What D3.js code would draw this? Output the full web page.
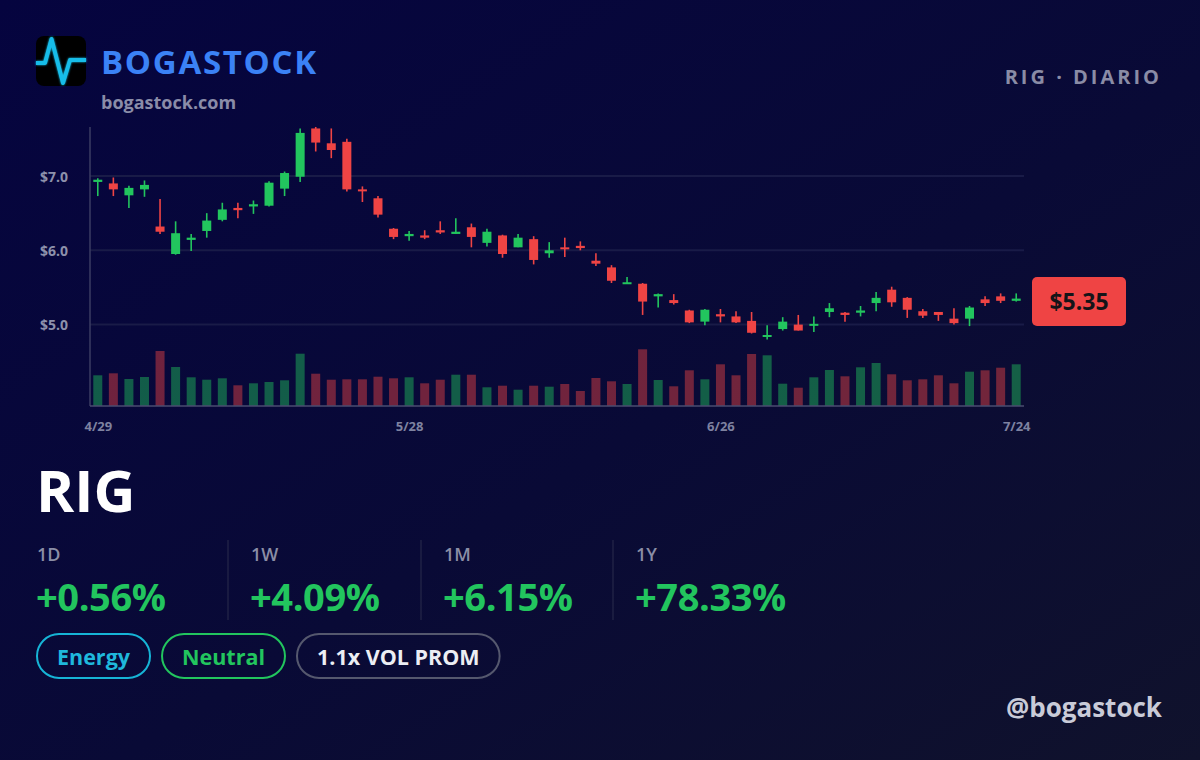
<!DOCTYPE html>
<html>
<head>
<meta charset="utf-8">
<script src="https://cdn.jsdelivr.net/npm/d3@7"></script>
<style>
  html, body { margin: 0; padding: 0; background: #07073a; }
  svg { display: block; font-family: "Open Sans", "DejaVu Sans", sans-serif; }
</style>
</head>
<body>
<svg id="card" width="1200" height="760"></svg>
<script>
// trading days shown on the chart
const dates = [
  "4/29", "4/30",
  "5/1", "5/2", "5/5", "5/6", "5/7", "5/8", "5/9", "5/12", "5/13", "5/14", "5/15", "5/16",
  "5/19", "5/20", "5/21", "5/22", "5/23", "5/27", "5/28", "5/29", "5/30",
  "6/2", "6/3", "6/4", "6/5", "6/6", "6/9", "6/10", "6/11", "6/12", "6/13",
  "6/16", "6/17", "6/18", "6/20", "6/23", "6/24", "6/25", "6/26", "6/27", "6/30",
  "7/1", "7/2", "7/3", "7/7", "7/8", "7/9", "7/10", "7/11", "7/14", "7/15", "7/16", "7/17", "7/18",
  "7/21", "7/22", "7/23", "7/24"
];

const opens = [
  6.92, 6.90, 6.74, 6.82, 6.32, 5.95, 6.14, 6.26, 6.41, 6.57,
  6.59, 6.60, 6.83, 6.99, 7.64, 7.44, 7.46, 6.82, 6.70, 6.29,
  6.19, 6.20, 6.27, 6.22, 6.31, 6.10, 6.20, 6.04, 6.15, 5.96,
  6.04, 6.06, 5.86, 5.77, 5.55, 5.55, 5.38, 5.33, 5.19, 5.04,
  5.14, 5.11, 5.05, 4.84, 4.94, 5.00, 4.99, 5.17, 5.16, 5.16,
  5.29, 5.47, 5.36, 5.18, 5.17, 5.08, 5.08, 5.34, 5.38, 5.32
];
const highs = [
  6.97, 6.98, 6.87, 6.94, 6.69, 6.39, 6.22, 6.50, 6.64, 6.64,
  6.67, 6.93, 7.06, 7.64, 7.66, 7.64, 7.50, 6.86, 6.73, 6.30,
  6.26, 6.27, 6.39, 6.43, 6.36, 6.29, 6.21, 6.22, 6.19, 6.11,
  6.17, 6.12, 5.96, 5.80, 5.64, 5.56, 5.42, 5.41, 5.20, 5.21,
  5.21, 5.18, 5.17, 4.99, 5.10, 5.13, 5.11, 5.29, 5.17, 5.25,
  5.44, 5.51, 5.37, 5.21, 5.17, 5.22, 5.25, 5.38, 5.42, 5.42
];
const lows = [
  6.73, 6.73, 6.57, 6.72, 6.22, 5.94, 5.99, 6.17, 6.39, 6.43,
  6.49, 6.59, 6.73, 6.92, 7.33, 7.24, 6.79, 6.65, 6.44, 6.15,
  6.13, 6.15, 6.22, 6.22, 6.04, 6.05, 5.90, 6.04, 5.81, 5.90,
  5.91, 6.00, 5.79, 5.56, 5.55, 5.13, 5.23, 5.27, 5.02, 4.99,
  5.03, 5.02, 4.88, 4.80, 4.92, 4.92, 4.90, 5.10, 5.04, 5.11,
  5.18, 5.24, 5.09, 5.09, 5.05, 5.00, 4.98, 5.25, 5.29, 5.31
];
const closes = [
  6.95, 6.82, 6.84, 6.88, 6.25, 6.23, 6.17, 6.40, 6.55, 6.54,
  6.62, 6.91, 7.04, 7.58, 7.45, 7.35, 6.82, 6.80, 6.48, 6.18,
  6.22, 6.17, 6.24, 6.25, 6.18, 6.25, 5.95, 6.17, 5.87, 6.00,
  6.02, 6.03, 5.82, 5.59, 5.57, 5.31, 5.41, 5.29, 5.03, 5.20,
  5.11, 5.03, 4.89, 4.86, 5.04, 4.92, 5.01, 5.22, 5.13, 5.19,
  5.36, 5.30, 5.20, 5.12, 5.13, 5.02, 5.23, 5.29, 5.32, 5.35
];
// volume in millions of shares
const volumes = [
  30.7, 32.7, 27.0, 29.0, 55.0, 39.0, 28.7, 26.3, 27.7, 20.7,
  22.7, 24.0, 25.7, 52.3, 32.3, 26.3, 26.7, 26.7, 29.3, 27.7,
  28.7, 22.7, 26.3, 31.3, 31.3, 18.7, 20.3, 16.3, 20.3, 19.3,
  22.0, 15.0, 28.0, 24.7, 22.0, 56.7, 26.0, 19.7, 35.7, 26.7,
  41.7, 30.7, 52.0, 50.7, 22.3, 18.3, 28.7, 36.0, 29.7, 38.7,
  43.0, 31.7, 25.7, 26.7, 30.7, 22.7, 34.3, 35.7, 38.3, 41.7
];

const priceTicks = [5, 6, 7];
const dateTicks = ["4/29", "5/28", "6/26", "7/24"];
const lastPrice = "$5.35";

const stats = [
  { label: "1D", value: "+0.56%" },
  { label: "1W", value: "+4.09%" },
  { label: "1M", value: "+6.15%" },
  { label: "1Y", value: "+78.33%" }
];
const pills = [
  { text: "Energy", color: "#16b4d6", textColor: "#1fb8dc" },
  { text: "Neutral", color: "#22c55e", textColor: "#22c55e" },
  { text: "1.1x VOL PROM", color: "#55586e", textColor: "#eceef4" }
];

const UP = "#22c55e";
const DOWN = "#ef4444";

var svg = d3.select("#card");

/**
 * Background gradient and header.
 */
function drawBackground() {
  var defs = svg.append("defs");
  var grad = defs.append("linearGradient")
    .attr("id", "bg")
    .attr("x1", "0").attr("y1", "0")
    .attr("x2", "1").attr("y2", "1");
  grad.append("stop").attr("offset", "0%").attr("stop-color", "#05043f");
  grad.append("stop").attr("offset", "55%").attr("stop-color", "#090a36");
  grad.append("stop").attr("offset", "100%").attr("stop-color", "#10122c");

  var glow = defs.append("filter").attr("id", "glow")
    .attr("x", "-20%").attr("y", "-20%").attr("width", "140%").attr("height", "140%");
  glow.append("feGaussianBlur").attr("stdDeviation", 1.2).attr("result", "b");
  var merge = glow.append("feMerge");
  merge.append("feMergeNode").attr("in", "b");
  merge.append("feMergeNode").attr("in", "SourceGraphic");

  svg.append("rect")
    .attr("width", 1200).attr("height", 760)
    .attr("fill", "url(#bg)");
}

function drawHeader() {
  // logo
  svg.append("rect")
    .attr("x", 36).attr("y", 36)
    .attr("width", 50).attr("height", 50)
    .attr("rx", 8)
    .attr("fill", "#000");
  var pts = [[36, 63], [45, 63], [51.5, 39], [63, 83], [70, 60], [86, 60]];
  svg.append("path")
    .attr("d", d3.line()(pts))
    .attr("fill", "none")
    .attr("stroke", "#19bde9")
    .attr("stroke-width", 4)
    .attr("stroke-linejoin", "round")
    .attr("filter", "url(#glow)");

  svg.append("text")
    .attr("x", 101).attr("y", 74)
    .style("font-size", "33px")
    .style("font-weight", 700)
    .style("letter-spacing", "1.7px")
    .attr("fill", "#3b82f6")
    .text("BOGASTOCK");

  svg.append("text")
    .attr("x", 101).attr("y", 109)
    .style("font-size", "18px")
    .style("font-weight", 700)
    .attr("fill", "#8a8ca8")
    .text("bogastock.com");

  svg.append("text")
    .attr("x", 1162).attr("y", 84)
    .style("text-anchor", "end")
    .style("font-size", "20px")
    .style("font-weight", 700)
    .style("letter-spacing", "3px")
    .attr("fill", "#8a8ca6")
    .text("RIG · DIARIO");
}

/**
 * Candlesticks with volume underneath.
 */
function drawChart() {
  var left = 90, right = 1024, top = 127, bottom = 406;

  var x = d3.scalePoint()
    .domain(dates)
    .range([left, right])
    .padding(0.5);
  var bodyW = 9;

  var y = d3.scaleLinear()
    .domain([5, 7])
    .range([324.6, 176]);

  var yVol = d3.scaleLinear()
    .domain([0, 60])
    .range([bottom, bottom - 60]);

  // grid lines
  svg.append("g")
    .selectAll("line")
    .data(priceTicks)
    .enter().append("line")
    .attr("x1", left).attr("x2", right)
    .attr("y1", d => y(d)).attr("y2", d => y(d))
    .attr("stroke", "#191b47")
    .attr("stroke-width", 2);

  // y axis labels
  var yAxis = svg.append("g")
    .attr("transform", "translate(" + (left - 22) + ",0)")
    .call(d3.axisLeft(y).tickValues(priceTicks).tickSize(0).tickFormat(d => "$" + d.toFixed(1)));
  yAxis.select(".domain").remove();
  yAxis.selectAll("text")
    .attr("x", 0)
    .attr("dy", "0.38em")
    .style("font-family", "'Open Sans', sans-serif")
    .style("font-size", "14px")
    .style("font-weight", 700)
    .attr("fill", "#8d91ab");

  var rows = dates.map((d, i) => ({
    date: d, open: opens[i], high: highs[i], low: lows[i], close: closes[i], vol: volumes[i]
  }));

  // volume bars
  svg.append("g")
    .selectAll("rect")
    .data(rows)
    .enter().append("rect")
    .attr("x", d => x(d.date) - bodyW / 2)
    .attr("y", d => yVol(d.vol))
    .attr("width", bodyW)
    .attr("height", d => bottom - yVol(d.vol))
    .attr("fill", d => d.close >= d.open ? UP : DOWN)
    .attr("fill-opacity", 0.45);

  // axis lines
  svg.append("line")
    .attr("x1", left).attr("x2", left)
    .attr("y1", top).attr("y2", bottom)
    .attr("stroke", "#3b3d63").attr("stroke-width", 1.5);
  svg.append("line")
    .attr("x1", left).attr("x2", right)
    .attr("y1", bottom).attr("y2", bottom)
    .attr("stroke", "#4a4c70").attr("stroke-width", 1.5);

  var candles = svg.append("g")
    .selectAll("g")
    .data(rows)
    .enter().append("g")
    .attr("fill", d => d.close >= d.open ? UP : DOWN)
    .attr("stroke", d => d.close >= d.open ? UP : DOWN);

  candles.append("line")
    .attr("x1", d => x(d.date)).attr("x2", d => x(d.date))
    .attr("y1", d => y(d.high)).attr("y2", d => y(d.low))
    .attr("stroke-width", 1.6);

  candles.append("rect")
    .attr("x", d => x(d.date) - bodyW / 2)
    .attr("y", d => y(Math.max(d.open, d.close)))
    .attr("width", bodyW)
    .attr("height", d => Math.max(2, Math.abs(y(d.open) - y(d.close))))
    .attr("stroke", "none");

  // x labels
  var xAxis = svg.append("g")
    .attr("transform", "translate(0," + (bottom + 13) + ")")
    .call(d3.axisBottom(x).tickValues(dateTicks).tickSize(0));
  xAxis.select(".domain").remove();
  xAxis.selectAll("text")
    .style("font-family", "'Open Sans', sans-serif")
    .style("font-size", "13px")
    .style("font-weight", 700)
    .attr("fill", "#7e82a0");

  // last price badge
  var badge = svg.append("g").attr("transform", "translate(1032,277)");
  badge.append("rect")
    .attr("width", 94).attr("height", 49)
    .attr("rx", 5)
    .attr("fill", DOWN);
  badge.append("text")
    .attr("x", 47).attr("y", 33)
    .style("text-anchor", "middle")
    .style("font-size", "23px")
    .style("font-weight", 700)
    .attr("fill", "#141418")
    .text(lastPrice);
}

/**
 * Ticker, performance stats and tags.
 */
function drawFooter() {
  svg.append("text")
    .attr("x", 36).attr("y", 512)
    .style("font-size", "58px")
    .style("font-weight", 700)
    .attr("fill", "#ffffff")
    .text("RIG");

  var colX = [37, 251, 444, 636];
  var cols = svg.append("g")
    .selectAll("g")
    .data(stats)
    .enter().append("g")
    .attr("transform", (d, i) => "translate(" + colX[i] + ",0)");
  cols.append("text")
    .attr("y", 561)
    .style("font-size", "18px")
    .style("font-weight", 600)
    .attr("fill", "#8b8ea6")
    .text(d => d.label);
  cols.append("text")
    .attr("x", -1).attr("y", 611)
    .style("font-size", "38px")
    .style("font-weight", 700)
    .style("letter-spacing", "-0.4px")
    .attr("fill", UP)
    .text(d => d.value);

  svg.append("g")
    .selectAll("line")
    .data(colX.slice(1))
    .enter().append("line")
    .attr("x1", d => d - 23).attr("x2", d => d - 23)
    .attr("y1", 540).attr("y2", 620)
    .attr("stroke", "#2a2c4c").attr("stroke-width", 1);

  var pillX = 37;
  pills.forEach(function(p) {
    var g = svg.append("g");
    var t = g.append("text")
      .attr("y", 665)
      .style("font-size", "21.5px")
      .style("font-weight", 700)
      .attr("fill", p.textColor)
      .text(p.text);
    var w = t.node().getComputedTextLength();
    var pw = w + 40;
    t.attr("x", pillX + 20);
    g.insert("rect", "text")
      .attr("x", pillX).attr("y", 634)
      .attr("width", pw).attr("height", 44)
      .attr("rx", 22)
      .attr("fill", "none")
      .attr("stroke", p.color)
      .attr("stroke-width", 2);
    pillX += pw + 12;
  });

  svg.append("text")
    .attr("x", 1162).attr("y", 717)
    .style("text-anchor", "end")
    .style("font-size", "26px")
    .style("font-weight", 700)
    .attr("fill", "#c9cbd8")
    .text("@bogastock");
}

drawBackground();
drawHeader();
drawChart();
drawFooter();
</script>
</body>
</html>
